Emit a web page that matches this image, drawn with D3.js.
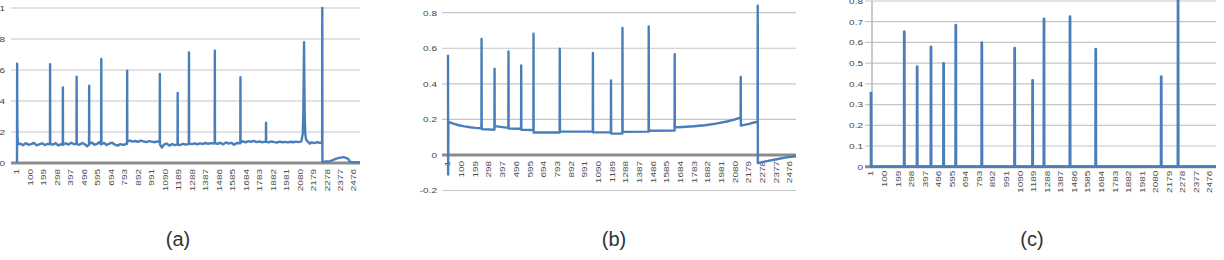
<!DOCTYPE html>
<html>
<head>
<meta charset="utf-8">
<script src="https://cdn.jsdelivr.net/npm/d3@7"></script>
<style>
  body { margin: 0; background: #fff; }
  svg { display: block; font-family: "Liberation Sans", Arial, sans-serif; }
</style>
</head>
<body>
<div id="chart"></div>
<script>
// category labels shared by all three panels (every 99th sample)
const xLabels = [1, 100, 199, 298, 397, 496, 595, 694, 793, 892, 991, 1090, 1189, 1288,
  1387, 1486, 1585, 1684, 1783, 1882, 1981, 2080, 2179, 2278, 2377, 2476];
const nSamples = 2520;

// (a) raw signal, [sample, value]
const seriesA = [
  [1, 0], [2, 0.64], [3, 0.33], [5, 0.16], [8, 0.12],
  [25, 0.125], [45, 0.115], [65, 0.128], [85, 0.118], [105, 0.122], [125, 0.13], [145, 0.114],
  [165, 0.12], [185, 0.127], [205, 0.116], [225, 0.123], [243, 0.12],
  [244, 0.637], [245, 0.125],
  [265, 0.118], [285, 0.128], [305, 0.113], [325, 0.122], [337, 0.117],
  [338, 0.488], [339, 0.12],
  [360, 0.127], [380, 0.119], [400, 0.131], [420, 0.121], [438, 0.125],
  [439, 0.557], [440, 0.122],
  [460, 0.118], [480, 0.129], [500, 0.12], [515, 0.108], [530, 0.118],
  [531, 0.499], [532, 0.125],
  [550, 0.132], [570, 0.118], [590, 0.124], [605, 0.135], [619, 0.12],
  [620, 0.671], [621, 0.122],
  [640, 0.129], [660, 0.116], [680, 0.125], [700, 0.131], [720, 0.118], [740, 0.112],
  [760, 0.122], [780, 0.117], [800, 0.121], [809, 0.125],
  [810, 0.596], [811, 0.14],
  [830, 0.145], [850, 0.138], [870, 0.142], [890, 0.136], [910, 0.144], [930, 0.139],
  [950, 0.135], [970, 0.141], [990, 0.138], [1010, 0.134], [1030, 0.139], [1049, 0.136],
  [1050, 0.574], [1051, 0.12],
  [1065, 0.1], [1080, 0.118], [1100, 0.126], [1120, 0.112], [1140, 0.122], [1160, 0.115], [1180, 0.12],
  [1181, 0.452], [1182, 0.118],
  [1200, 0.116], [1220, 0.124], [1240, 0.119], [1263, 0.122],
  [1264, 0.714], [1265, 0.125],
  [1285, 0.122], [1305, 0.127], [1325, 0.121], [1345, 0.126], [1365, 0.123], [1385, 0.129],
  [1405, 0.124], [1425, 0.128], [1453, 0.126],
  [1454, 0.725], [1455, 0.128],
  [1475, 0.124], [1495, 0.131], [1515, 0.12], [1535, 0.133], [1555, 0.125], [1575, 0.13],
  [1595, 0.118], [1615, 0.129], [1641, 0.127],
  [1642, 0.553], [1643, 0.132],
  [1660, 0.14], [1680, 0.133], [1700, 0.141], [1720, 0.136], [1740, 0.143], [1760, 0.135],
  [1780, 0.139], [1800, 0.134], [1829, 0.138],
  [1830, 0.26], [1831, 0.136],
  [1850, 0.133], [1870, 0.139], [1890, 0.135], [1910, 0.132], [1930, 0.138], [1950, 0.134],
  [1970, 0.136], [1990, 0.133], [2010, 0.137], [2030, 0.134], [2050, 0.138], [2070, 0.135], [2090, 0.14],
  [2100, 0.19], [2104, 0.33], [2107, 0.6], [2109, 0.78], [2111, 0.56], [2114, 0.3], [2118, 0.19],
  [2124, 0.15], [2135, 0.14], [2150, 0.125], [2165, 0.133], [2185, 0.128], [2205, 0.134],
  [2225, 0.13], [2242, 0.132],
  [2243, 1.0], [2244, 0.005],
  [2270, 0.01], [2300, 0.012], [2320, 0.018], [2340, 0.026], [2360, 0.032], [2380, 0.035],
  [2400, 0.038], [2420, 0.032], [2435, 0.026], [2445, 0.008], [2470, 0.004], [2500, 0.005], [2520, 0.003]
];

// (b) filtered signal, [sample, value]
const seriesB = [
  [1, 0.563], [2, -0.11], [4, 0.186], [40, 0.176], [80, 0.167], [120, 0.161], [160, 0.156],
  [200, 0.152], [243, 0.150],
  [244, 0.652], [245, 0.145], [337, 0.142],
  [338, 0.485], [339, 0.162], [438, 0.152],
  [439, 0.582], [440, 0.149], [530, 0.147],
  [531, 0.503], [532, 0.141], [619, 0.140],
  [620, 0.682], [621, 0.126], [809, 0.126],
  [810, 0.597], [811, 0.131], [1049, 0.131],
  [1050, 0.573], [1051, 0.127], [1180, 0.127],
  [1181, 0.419], [1182, 0.120], [1263, 0.121],
  [1264, 0.714], [1265, 0.130], [1453, 0.131],
  [1454, 0.723], [1455, 0.136], [1641, 0.137],
  [1642, 0.567], [1643, 0.155], [1700, 0.157], [1780, 0.161], [1860, 0.167], [1940, 0.176],
  [2020, 0.188], [2080, 0.2], [2119, 0.212],
  [2120, 0.438], [2121, 0.165], [2180, 0.175], [2242, 0.188],
  [2243, 0.839], [2244, -0.046], [2300, -0.036], [2380, -0.024], [2450, -0.014], [2520, -0.007]
];

// (c) detected peaks: sample positions and heights (zero elsewhere)
const peakIdx = [1, 244, 338, 439, 531, 620, 810, 1050, 1181, 1264, 1454, 1642, 2120, 2243];
const peakVal = [0.362, 0.652, 0.483, 0.579, 0.499, 0.683, 0.599, 0.572, 0.417, 0.713, 0.724, 0.567, 0.435, 0.84];

const ticksA = [0, 0.2, 0.4, 0.6, 0.8, 1];
const ticksB = [-0.2, 0, 0.2, 0.4, 0.6, 0.8];
const ticksC = [0, 0.1, 0.2, 0.3, 0.4, 0.5, 0.6, 0.7, 0.8];

// build (c) as a zero line with one-sample spikes
const seriesC = [];
peakIdx.forEach((p, i) => {
  if (p > 1) seriesC.push([p - 1, 0]);
  seriesC.push([p, peakVal[i]]);
  seriesC.push([p + 1, 0]);
});
seriesC.push([nSamples, 0]);

const WIDTH = 1224, HEIGHT = 260;
const blue = "#4a7ebb";

const svg = d3.select("#chart").append("svg")
  .attr("width", WIDTH)
  .attr("height", HEIGHT)
  .attr("viewBox", `0 0 ${WIDTH} ${HEIGHT}`);

const panels = [
  { data: seriesA, x0: 17, x1: 360, dom: [0, 1], rng: [163, 8], ticks: ticksA, labelX: 5,
    gap: 6, vAxis: false, caption: "(a)", capX: 178, sw: 2.4 },
  { data: seriesB, x0: 448, x1: 796, dom: [-0.2, 0.8], rng: [190.5, 12.7], ticks: ticksB, labelX: 437,
    gap: 6, vAxis: false, caption: "(b)", capX: 614, sw: 2.4 },
  { data: seriesC, x0: 871, x1: 1216, dom: [0, 0.8], rng: [166.7, 1], ticks: ticksC, labelX: 863,
    gap: 4, vAxis: true, caption: "(c)", capX: 1032, sw: 2.8 }
];

const fmt = d => String(+d.toFixed(1));

panels.forEach(p => {
  const x = d3.scaleLinear().domain([1, nSamples]).range([p.x0, p.x1]);
  const y = d3.scaleLinear().domain(p.dom).range(p.rng);
  const g = svg.append("g");

  // gridlines
  g.selectAll(".grid")
    .data(p.ticks.filter(t => t !== 0))
    .join("line")
    .attr("x1", p.x0 - 6).attr("x2", p.x1)
    .attr("y1", d => y(d)).attr("y2", d => y(d))
    .attr("stroke", "#c6c6c6").attr("stroke-width", 1.2);

  // y tick labels
  g.selectAll(".ylab")
    .data(p.ticks)
    .join("text")
    .attr("transform", d => `translate(${p.labelX},${y(d)}) scale(1,0.8)`)
    .attr("dy", "0.35em")
    .attr("text-anchor", "end")
    .attr("fill", "#444")
    .style("font-size", "10px")
    .text(fmt);

  if (p.vAxis) {
    g.append("line")
      .attr("x1", p.x0 + 1).attr("x2", p.x0 + 1)
      .attr("y1", y(p.dom[1])).attr("y2", y(0))
      .attr("stroke", "#a8a8a8").attr("stroke-width", 1.2);
  }

  // category axis at zero
  g.append("line")
    .attr("x1", p.x0 - 6).attr("x2", p.x1)
    .attr("y1", y(0)).attr("y2", y(0))
    .attr("stroke", "#8c8c8c").attr("stroke-width", 3);

  // x tick labels (rotated)
  g.selectAll(".xlab")
    .data(xLabels)
    .join("text")
    .attr("transform", d => `translate(${x(d)},${y(0) + p.gap}) rotate(-90) scale(1,0.7)`)
    .attr("dy", "0.35em")
    .attr("text-anchor", "end")
    .attr("fill", "#4d4d4d")
    .style("font-size", "10px")
    .text(d => d);

  // series
  const line = d3.line().x(d => x(d[0])).y(d => y(d[1]));
  g.append("path")
    .datum(p.data)
    .attr("d", line)
    .attr("fill", "none")
    .attr("stroke", blue)
    .attr("stroke-width", p.sw)
    .attr("stroke-linejoin", "round");

  // caption
  svg.append("text")
    .attr("x", p.capX)
    .attr("y", 246)
    .attr("text-anchor", "middle")
    .attr("fill", "#333")
    .style("font-size", "20px")
    .text(p.caption);
});
</script>
</body>
</html>
